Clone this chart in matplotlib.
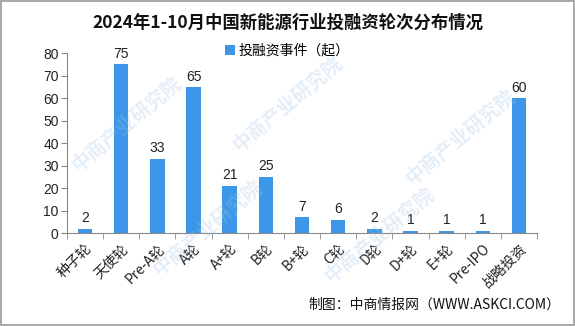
import matplotlib.pyplot as plt
import numpy as np

plt.rcParams['font.family'] = ['Noto Sans CJK SC', 'DejaVu Sans']
plt.rcParams['axes.unicode_minus'] = False

rounds = ['种子轮', '天使轮', 'Pre-A轮', 'A轮', 'A+轮', 'B轮', 'B+轮', 'C轮',
          'D轮', 'D+轮', 'E+轮', 'Pre-IPO', '战略投资']
events = [2, 75, 33, 65, 21, 25, 7, 6, 2, 1, 1, 1, 60]
yticks = [0, 10, 20, 30, 40, 50, 60, 70, 80]

fig = plt.figure(figsize=(5.75, 3.26), dpi=100)

# 水印
for wx, wy in [(0.22, 0.62), (0.50, 0.68), (0.80, 0.58), (0.36, 0.30), (0.66, 0.28)]:
    fig.text(wx, wy, '中商产业研究院', rotation=40, ha='center', va='center',
             fontsize=14, fontweight='bold', color='#9cc3e6', alpha=0.28, zorder=0)

ax = fig.add_axes([0.1165, 0.285, 0.8175, 0.552])
ax.patch.set_alpha(0)

x = np.arange(len(rounds))
bars = ax.bar(x, events, width=0.4, color='#3d97e8', label='投融资事件（起）')
for xi, v in zip(x, events):
    ax.text(xi, v + 1.5, str(v), ha='center', va='bottom', fontsize=10, color='#222222',
            family=['Liberation Sans', 'DejaVu Sans'])

ax.set_xlim(-0.5, len(rounds) - 0.5)
ax.set_ylim(0, 80)
ax.set_yticks(yticks)
ax.set_yticklabels([str(t) for t in yticks], family=['Liberation Sans', 'DejaVu Sans'],
                   fontsize=10, color='#222222')
ax.set_xticks(x)
ax.set_xticklabels(rounds, rotation=45, ha='right', va='top', rotation_mode='anchor',
                   fontsize=10, color='#222222')
ax.set_xticks(np.arange(-0.5, len(rounds)), minor=True)
ax.tick_params(axis='x', which='major', length=0, pad=6)
ax.tick_params(axis='x', which='minor', length=4, color='#888888', direction='out')
ax.tick_params(axis='y', length=4, color='#888888', direction='out', pad=2)
for s in ['top', 'right']:
    ax.spines[s].set_visible(False)
ax.spines['left'].set_color('#888888')
ax.spines['bottom'].set_color('#888888')

fig.text(0.5, 0.93, '2024年1-10月中国新能源行业投融资轮次分布情况', ha='center', va='center',
         fontsize=12.5, fontweight='bold', color='#111111')
fig.legend(loc='center', bbox_to_anchor=(0.5, 0.845), frameon=False, fontsize=10,
           handlelength=0.7, handleheight=0.7, handletextpad=0.3)
fig.text(0.975, 0.065, '制图：中商情报网（WWW.ASKCI.COM）', ha='right', va='center',
         fontsize=10, color='#111111')

# 外框
fig.patches.append(plt.Rectangle((0.002, 0.003), 0.996, 0.994, transform=fig.transFigure,
                                 fill=False, edgecolor='#999999', linewidth=1.2))

fig.savefig('out.png', dpi=100)
